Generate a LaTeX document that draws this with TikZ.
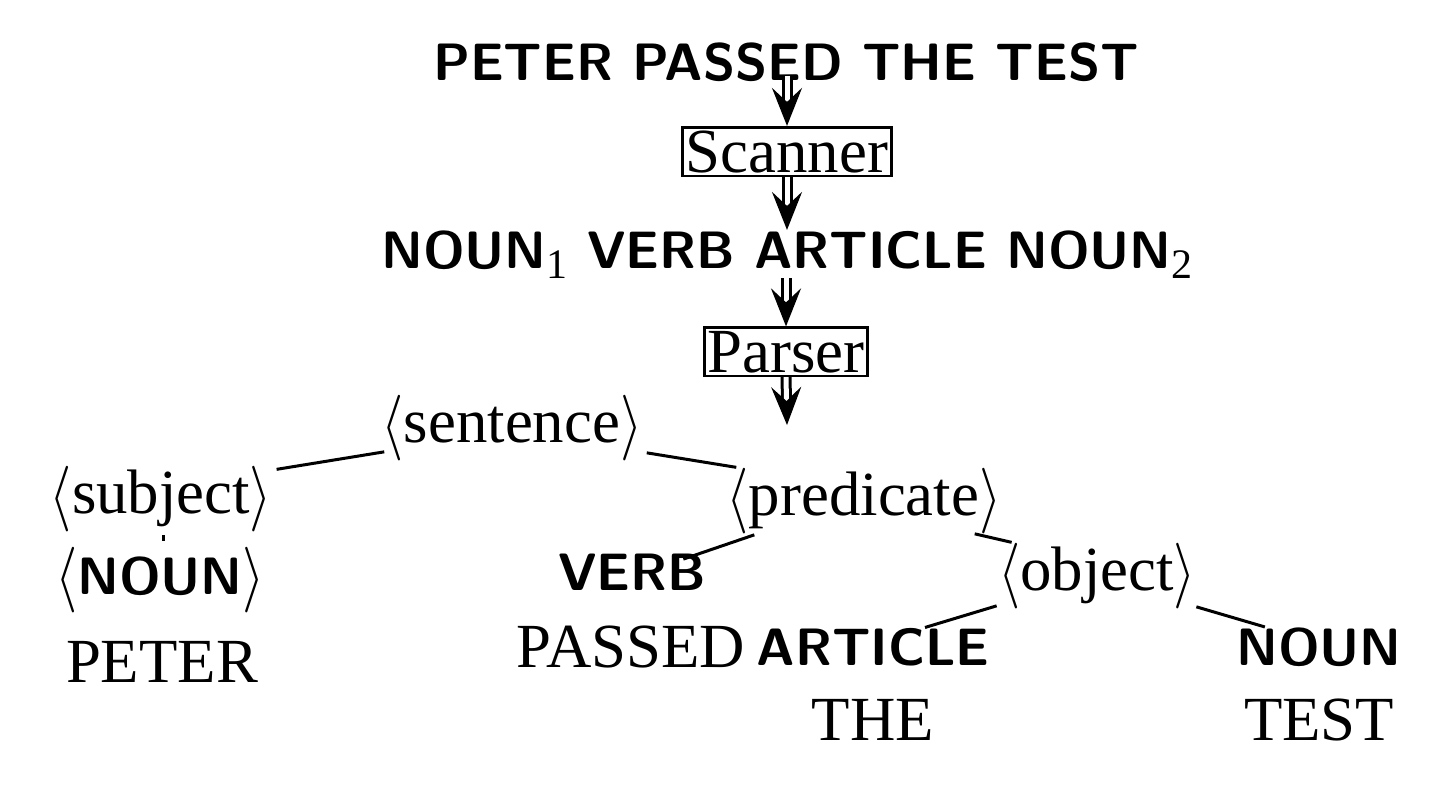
\documentclass[tikz,border=0pt]{standalone}
\usepackage{fontspec}
\setmainfont{Liberation Serif}
\usetikzlibrary{arrows.meta,calc}
\newcommand{\lang}{\raisebox{-1pt}{\scalebox{1.15}[1.32]{$\langle$}}}
\newcommand{\rang}{\raisebox{-1pt}{\scalebox{1.15}[1.32]{$\rangle$}}}
\newcommand{\subdigit}[1]{\raisebox{-5pt}{\fontsize{21}{21}\selectfont\rmfamily\mdseries #1}}
\newcommand{\toksize}{\fontsize{26.3}{30}\selectfont\sffamily\bfseries}
\begin{document}
\begin{tikzpicture}[x=0.5pt,y=-0.5pt,
  serif/.style={font=\fontsize{31.4}{36}\selectfont\rmfamily, inner sep=0pt, anchor=base},
  tok/.style={font=\toksize, inner sep=0pt, anchor=base},
  boxed/.style={serif, draw, line width=1.3pt, inner sep=1.6pt},
  dblarrow/.style={double, double distance=2.5pt, line width=1.5pt, -{Stealth[length=19pt, width=15pt, inset=7pt]}},
  edge/.style={line width=1.5pt}]
\useasboundingbox (0,0) rectangle (1450,800);
\node[tok] (title) at (786,80) {PETER PASSED THE TEST};
\node[boxed] (scanner) at (787,172) {Scanner};
\node[tok] (tokens) at (787,268) {NOUN\subdigit{1} VERB ARTICLE NOUN\subdigit{2}};
\node[boxed] (parser) at (786,372) {Parser};
\coordinate (out) at (787,425);
\node[serif] (sentence) at (512,442) {\lang sentence\rang};
\node[serif] (subject) at (161,513) {\lang subject\rang};
\node[serif] (nounA) at (160,594) {\lang{\toksize NOUN}\rang};
\node[serif] (peter) at (162,682) {PETER};
\node[serif] (predicate) at (864,515) {\lang predicate\rang};
\node[tok] (verb) at (632,590) {VERB};
\node[serif] (passed) at (631,667) {PASSED};
\node[serif] (object) at (1097,590) {\lang object\rang};
\node[tok] (article) at (873,665) {ARTICLE};
\node[serif] (the) at (873,740) {THE};
\node[tok] (noun) at (1319,665) {NOUN};
\node[serif] (test) at (1319,740) {TEST};
% pipeline arrows
\draw[dblarrow] ([yshift=3pt]title.south -| scanner.north) -- (scanner.north);
\draw[dblarrow] (scanner.south) -- (tokens.north -| scanner.south);
\draw[dblarrow] (tokens.south -| parser.north) -- (parser.north);
\draw[dblarrow] (parser.south) -- (out);
% tree
\draw[edge] ($(sentence.south west)+(3,-9)$) -- ($(subject.north east)+(4,4)$);
\draw[edge] ($(sentence.south east)+(4,-8)$) -- ($(predicate.north west)+(10,0)$);
\draw[edge] ($(subject.south)+(2,3)$) -- ($(nounA.north)+(3,-5)$);
\draw[edge] ($(predicate.south west)+(28,1)$) -- ($(verb.north east)+(-23,6)$);
\draw[edge] ($(predicate.south east)+(-27,0)$) -- ($(object.north west)+(14,0)$);
\draw[edge] ($(object.south west)+(-1,-3)$) -- ($(article.north)+(52,0)$);
\draw[edge] ($(object.south east)+(0,-2)$) -- ($(noun.north west)+(29,0)$);
\end{tikzpicture}
\end{document}
